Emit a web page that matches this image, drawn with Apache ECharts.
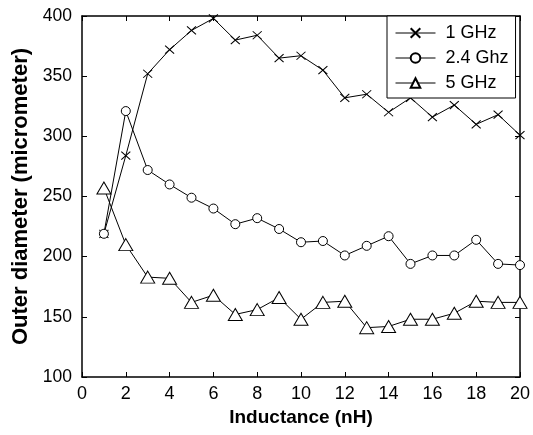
<!DOCTYPE html>
<html>
<head>
<meta charset="utf-8">
<script src="https://cdn.jsdelivr.net/npm/echarts@6/dist/echarts.min.js"></script>
<style>
html,body{margin:0;padding:0;background:#fff;}
#chart{width:533px;height:435px;}
</style>
</head>
<body>
<div id="chart"></div>
<script>
var inductance = [1,2,3,4,5,6,7,8,9,10,11,12,13,14,15,16,17,18,19,20];
var ghz1  = [219,284,352,372,388,398,380,384,365,367,355,332,335,320,332,316,326,310,318,301];
var ghz24 = [219,321,272,260,249,240,227,232,223,212,213,201,209,217,194,201,201,214,194,193];
var ghz5  = [257,210,183,182,162,168,152,156,166,148,162,163,141,142,148,148,153,163,162,162];
var seriesNames = ['1 GHz', '2.4 Ghz', '5 GHz'];

function pairs(ys){ return inductance.map(function(x,i){ return [x, ys[i]]; }); }

var FONT = '"Liberation Sans", Arial, Helvetica, sans-serif';
var chart = echarts.init(document.getElementById('chart'), null, {renderer:'canvas'});

function axisCommon(extra){
  var base = {
    type:'value',
    axisLine:{show:true, onZero:false, lineStyle:{color:'#000', width:1.5}},
    axisTick:{show:true, inside:true, length:5, lineStyle:{color:'#000', width:1}},
    splitLine:{show:false},
    axisLabel:{show:false}
  };
  for (var k in extra) base[k] = extra[k];
  return base;
}

var option = {
  backgroundColor:'#fff',
  animation:false,
  grid:{left:82, right:11, top:16, bottom:58, containLabel:false},
  xAxis:[
    axisCommon({min:0, max:20, interval:2, position:'bottom',
      axisLabel:{show:true, margin:8, color:'#000', fontSize:18, fontFamily:FONT},
      name:'Inductance (nH)', nameLocation:'middle', nameGap:31,
      nameTextStyle:{color:'#000', fontSize:19, fontWeight:'bold', fontFamily:FONT}}),
    axisCommon({min:0, max:20, interval:2, position:'top'})
  ],
  yAxis:[
    axisCommon({min:100, max:400, interval:50, position:'left',
      axisLabel:{show:true, margin:10, color:'#000', fontSize:17.5, fontFamily:FONT},
      name:'Outer diameter (micrometer)', nameLocation:'middle', nameGap:47,
      nameTextStyle:{color:'#000', fontSize:22, fontWeight:'bold', fontFamily:FONT}}),
    axisCommon({min:100, max:400, interval:50, position:'right'})
  ],
  legend:{
    left:387, top:16, orient:'vertical',
    itemWidth:40, itemHeight:12, itemGap:5,
    padding:[7,7,5,8],
    borderColor:'#000', borderWidth:1, backgroundColor:'#fff',
    textStyle:{color:'#000', fontSize:18, lineHeight:20, fontFamily:FONT, padding:[0,0,0,5]},
    lineStyle:{width:1},
    data:seriesNames
  },
  series:[
    {name:seriesNames[0], type:'line', data:pairs(ghz1),
      symbol:'path://M0,0L10,10M10,0L0,10', symbolSize:[9,8],
      lineStyle:{color:'#000', width:1},
      itemStyle:{color:'#000', borderColor:'#000', borderWidth:1}},
    {name:seriesNames[1], type:'line', data:pairs(ghz24),
      symbol:'circle', symbolSize:9,
      lineStyle:{color:'#000', width:1},
      itemStyle:{color:'#fff', borderColor:'#000', borderWidth:1}},
    {name:seriesNames[2], type:'line', data:pairs(ghz5),
      symbol:'triangle', symbolSize:[14,12],
      lineStyle:{color:'#000', width:1},
      itemStyle:{color:'#fff', borderColor:'#000', borderWidth:1}}
  ]
};
chart.setOption(option);
</script>
</body>
</html>
